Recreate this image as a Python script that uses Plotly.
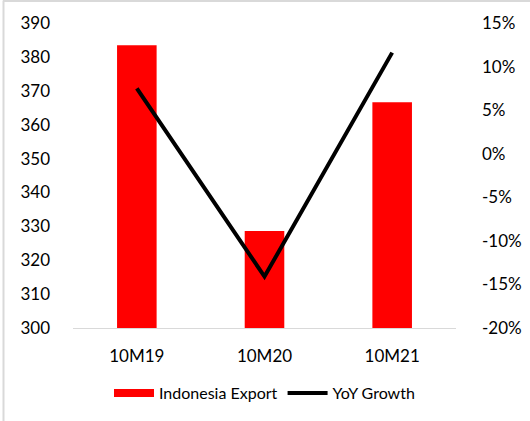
import plotly.graph_objects as go

categories = ["10M19", "10M20", "10M21"]
export_values = [383.4, 328.6, 366.6]
yoy_growth = [0.075, -0.141, 0.116]
left_ticks = [300, 310, 320, 330, 340, 350, 360, 370, 380, 390]
right_ticks = [-0.20, -0.15, -0.10, -0.05, 0.0, 0.05, 0.10, 0.15]
right_labels = ["-20%", "-15%", "-10%", "-5%", "0%", "5%", "10%", "15%"]

FONT = "Lato"
PL, PR, PT, PB = 73, 456, 23, 328  # plot area in pixels
PW, PH = PR - PL, PB - PT

def px_x(px):
    return (px - PL) / PW

def px_y(py):
    return (PB - py) / PH

fig = go.Figure()
fig.add_trace(go.Bar(
    x=categories, y=export_values, name="Indonesia Export",
    marker=dict(color="#FF0000", line=dict(width=0)), yaxis="y", showlegend=False,
))
# legend-only entry drawn as a wide red block, like the reference legend key
fig.add_trace(go.Scatter(
    x=[categories[0]], y=[None], name="Indonesia Export", mode="lines",
    line=dict(color="#FF0000", width=8), yaxis="y", showlegend=True,
))
fig.add_trace(go.Scatter(
    x=categories, y=yoy_growth, name="YoY Growth", mode="lines",
    line=dict(color="black", width=4), yaxis="y2",
))

fig.update_layout(
    width=530, height=421,
    margin=dict(l=PL, r=530 - PR, t=PT, b=421 - PB, autoexpand=False),
    paper_bgcolor="white", plot_bgcolor="white",
    font=dict(family=FONT, size=17, color="#000000"),
    bargap=0.69,
    xaxis=dict(showgrid=False, showline=True, linecolor="#D9D9D9", linewidth=1,
               ticks="", tickfont=dict(size=17), ticklabelstandoff=13),
    yaxis=dict(range=[300, 390], tickvals=left_ticks, showgrid=False, zeroline=False,
               showline=False, ticks="", ticklabelstandoff=22),
    yaxis2=dict(range=[-0.20, 0.15], tickvals=right_ticks, ticktext=right_labels,
                overlaying="y", side="right", showgrid=False, zeroline=False,
                showline=False, ticks="", ticklabelstandoff=25),
    legend=dict(orientation="h", x=0.5, xanchor="center", y=px_y(393), yanchor="middle",
                font=dict(size=16), itemwidth=40, tracegroupgap=0),
    showlegend=True,
)
# outer chart frame (left and top edges visible in the reference)
fig.add_shape(type="line", xref="paper", yref="paper",
              x0=px_x(3.5), x1=px_x(3.5), y0=px_y(421), y1=px_y(0.5),
              line=dict(color="#D9D9D9", width=2))
fig.add_shape(type="line", xref="paper", yref="paper",
              x0=px_x(3), x1=px_x(530), y0=px_y(1), y1=px_y(1),
              line=dict(color="#D9D9D9", width=2))

fig.write_html("out.html")
